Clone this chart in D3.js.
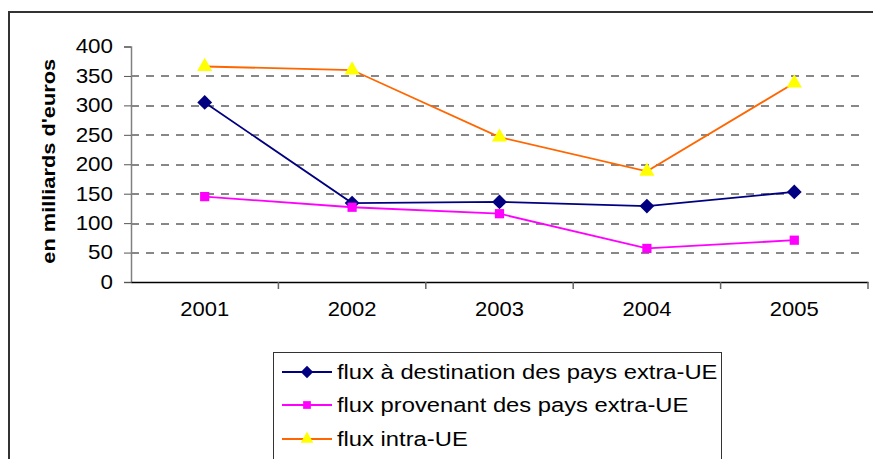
<!DOCTYPE html>
<html>
<head>
<meta charset="utf-8">
<script src="https://cdn.jsdelivr.net/npm/d3@7"></script>
<style>
  body { margin: 0; background: #fff; }
  svg { display: block; font-family: Arial, "Liberation Sans", sans-serif; }
</style>
</head>
<body>
<div id="chart"></div>
<script>
const years = ['2001', '2002', '2003', '2004', '2005'];
const yTicks = [0, 50, 100, 150, 200, 250, 300, 350, 400];
const fluxDestination = [305, 134, 136, 129, 153];
const fluxProvenant = [145, 127, 116, 57, 71];
const fluxIntra = [366, 360, 246, 188, 338];
const seriesNames = [
  'flux à destination des pays extra-UE',
  'flux provenant des pays extra-UE',
  'flux intra-UE'
];

const series = [
  {name: seriesNames[0], values: fluxDestination, stroke: '#000080', fill: '#000080', symbol: d3.symbolDiamond2, size: 140},
  {name: seriesNames[1], values: fluxProvenant, stroke: '#FF00FF', fill: '#FF00FF', symbol: d3.symbolSquare, size: 85},
  {name: seriesNames[2], values: fluxIntra, stroke: '#FF6600', fill: '#FFFF00', symbol: d3.symbolTriangle, size: 100}
];

const W = 873, H = 459;
const margin = {top: 46.5, left: 131};
const width = 868 - margin.left;
const height = 282 - margin.top;

// the source text is a bit wider than plain Arial
const stretch = (sel, k) => sel.each(function() {
  const t = d3.select(this);
  const x0 = +t.attr('x') || 0;
  t.attr('x', x0 / k).attr('transform', `scale(${k},1)`);
});

const svg = d3.select('#chart').append('svg')
  .attr('width', W)
  .attr('height', H);

// outer frame (right/bottom run off the picture)
svg.append('rect')
  .attr('x', 9).attr('y', 12)
  .attr('width', 900).attr('height', 500)
  .attr('fill', 'none')
  .attr('stroke', '#333')
  .attr('stroke-width', 2);

const g = svg.append('g')
  .attr('transform', `translate(${margin.left}, ${margin.top})`);

const x = d3.scaleBand().domain(years).range([0, width]);
const y = d3.scaleLinear().domain([0, 400]).range([height, 0]);

// dashed gridlines
g.append('g')
  .selectAll('line')
  .data(yTicks.filter(d => d > 0 && d < 400))
  .join('line')
    .attr('x1', 0)
    .attr('x2', width - 6)
    .attr('y1', d => Math.round(y(d)) + 0.5)
    .attr('y2', d => Math.round(y(d)) + 0.5)
    .attr('stroke', '#111')
    .attr('stroke-width', 1)
    .attr('stroke-dasharray', '8,7');

// y axis
const yAxis = d3.axisLeft(y).tickValues(yTicks).tickSize(7).tickPadding(11);
const yG = g.append('g').call(yAxis);
yG.select('.domain').attr('stroke', '#808080').attr('stroke-width', 1.5);
yG.selectAll('.tick line').attr('stroke', '#555');
yG.selectAll('.tick text')
  .attr('font-size', 20)
  .attr('fill', '#000')
  .call(stretch, 1.12);

// x axis
const xAxis = d3.axisBottom(x).tickSize(0).tickPadding(20);
const xG = g.append('g')
  .attr('transform', `translate(0, ${height})`)
  .call(xAxis);
xG.select('.domain').attr('stroke', '#000').attr('stroke-width', 1.5);
xG.selectAll('.tick text')
  .attr('font-size', 20)
  .attr('fill', '#000')
  .call(stretch, 1.1);
// category boundary ticks
xG.append('g')
  .selectAll('line')
  .data(years)
  .join('line')
    .attr('x1', (d, i) => x.step() * (i + 1))
    .attr('x2', (d, i) => x.step() * (i + 1))
    .attr('y1', 0)
    .attr('y2', 7)
    .attr('stroke', '#666')
    .attr('stroke-width', 1.5);

// y label
svg.append('g')
  .attr('transform', `translate(55, ${margin.top + height / 2 - 3}) rotate(-90)`)
  .append('text')
    .attr('text-anchor', 'middle')
    .attr('font-size', 18)
    .attr('font-weight', 'bold')
    .text("en milliards d'euros")
    .call(stretch, 1.21);

const line = d3.line()
  .x((d, i) => x(years[i]) + x.bandwidth() / 2)
  .y(d => y(d));

series.forEach(s => {
  g.append('path')
    .datum(s.values)
    .attr('d', line)
    .attr('fill', 'none')
    .attr('stroke', s.stroke)
    .attr('stroke-width', 1.8);

  g.selectAll(null)
    .data(s.values)
    .join('path')
      .attr('transform', (d, i) => `translate(${x(years[i]) + x.bandwidth() / 2}, ${y(d)})`)
      .attr('d', d3.symbol().type(s.symbol).size(s.size))
      .attr('fill', s.fill);
});

// legend
const legend = svg.append('g');
legend.append('rect')
  .attr('x', 273.5).attr('y', 352.5)
  .attr('width', 448).attr('height', 120)
  .attr('fill', '#fff')
  .attr('stroke', '#333')
  .attr('stroke-width', 1);

const rowY = [372, 405, 439];
series.forEach((s, i) => {
  const row = legend.append('g').attr('transform', `translate(0, ${rowY[i]})`);
  row.append('line')
    .attr('x1', 282).attr('x2', 332)
    .attr('y1', 0).attr('y2', 0)
    .attr('stroke', s.stroke)
    .attr('stroke-width', 1.8);
  row.append('path')
    .attr('transform', 'translate(307, 0)')
    .attr('d', d3.symbol().type(s.symbol).size(s.size * 0.7))
    .attr('fill', s.fill);
  row.append('text')
    .attr('x', 337)
    .attr('y', 0)
    .attr('dy', '0.35em')
    .attr('font-size', 20.5)
    .text(s.name)
    .call(stretch, 1.16);
});
</script>
</body>
</html>
